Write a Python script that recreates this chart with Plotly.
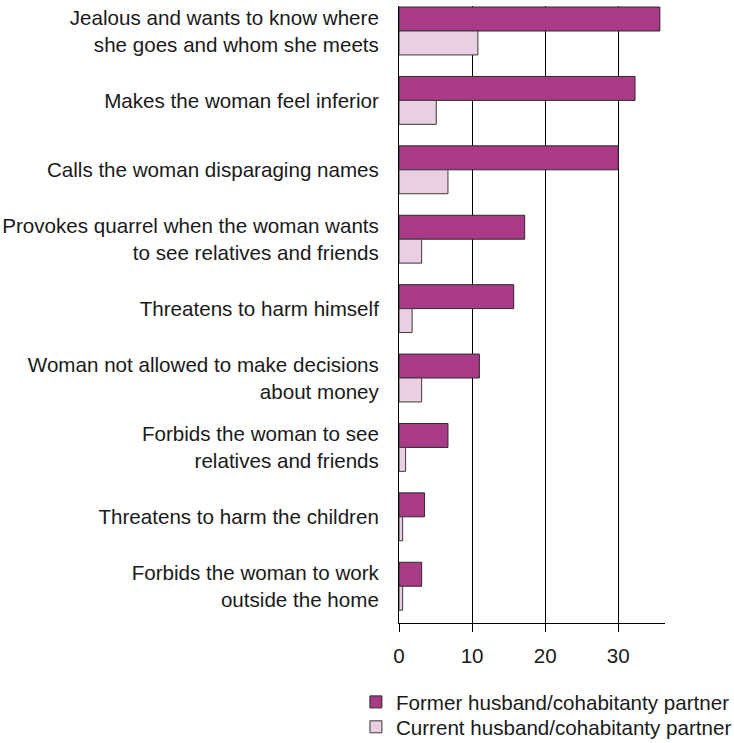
import plotly.graph_objects as go

categories = [
    "Jealous and wants to know where<br>she goes and whom she meets",
    "Makes the woman feel inferior",
    "Calls the woman disparaging names",
    "Provokes quarrel when the woman wants<br>to see relatives and friends",
    "Threatens to harm himself",
    "Woman not allowed to make decisions<br>about money",
    "Forbids the woman to see<br>relatives and friends",
    "Threatens to harm the children",
    "Forbids the woman to work<br>outside the home",
]
former = [35.7, 32.3, 30.0, 17.2, 15.7, 11.0, 6.7, 3.5, 3.1]
current = [10.8, 5.1, 6.7, 3.1, 1.8, 3.1, 0.9, 0.5, 0.5]
x_ticks = [0, 10, 20, 30]

positions = list(range(len(categories)))
FONT = "Liberation Sans, Arial, sans-serif"
FS = 20.6
TXT = "#1a1a1a"

fig = go.Figure()
fig.add_trace(go.Bar(
    y=positions, x=former, orientation="h",
    name="Former husband/cohabitanty partner", legend="legend",
    marker=dict(color="#A93A87", line=dict(color="#2a2a2a", width=1)),
))
fig.add_trace(go.Bar(
    y=positions, x=current, orientation="h",
    name="Current husband/cohabitanty partner", legend="legend2",
    marker=dict(color="#EACFE2", line=dict(color="#3a3a3a", width=1)),
))

legend_common = dict(
    xanchor="left", yanchor="top", orientation="v",
    font=dict(size=FS, family=FONT, color=TXT),
    itemwidth=30, bgcolor="rgba(0,0,0,0)",
)

fig.update_layout(
    width=734, height=743,
    margin=dict(l=399, r=69, t=6, b=120, autoexpand=False),
    paper_bgcolor="white", plot_bgcolor="white",
    barmode="group", bargap=0.31, bargroupgap=0,
    font=dict(family=FONT, size=FS, color=TXT),
    showlegend=True,
    legend=dict(x=-0.162, y=-0.0956, **legend_common),
    legend2=dict(x=-0.162, y=-0.136, **legend_common),
    xaxis=dict(
        range=[0, 36.4], tickvals=x_ticks, ticktext=[str(v) for v in x_ticks],
        showgrid=True, gridcolor="black", gridwidth=1,
        showline=True, linecolor="black", linewidth=1,
        zeroline=False, ticks="outside", ticklen=8, tickcolor="black",
        ticklabelstandoff=6, automargin=False,
        tickfont=dict(size=FS, family=FONT, color=TXT),
        fixedrange=True,
    ),
    yaxis=dict(
        range=[8.53, -0.36], tickvals=positions, ticktext=categories,
        showgrid=False, showline=True, linecolor="black", linewidth=1,
        zeroline=False, ticks="", automargin=False,
        ticklabelstandoff=15,
        tickfont=dict(size=FS, family=FONT, color=TXT),
        fixedrange=True,
    ),
)

fig.write_html("out.html", config={"displayModeBar": False})

# remove the browser's default body margin so the figure sits at the page origin
with open("out.html", "r", encoding="utf-8") as f:
    html = f.read()
html = html.replace("<head>", "<head><style>html,body{margin:0;padding:0;overflow:hidden;}</style>", 1)
with open("out.html", "w", encoding="utf-8") as f:
    f.write(html)
